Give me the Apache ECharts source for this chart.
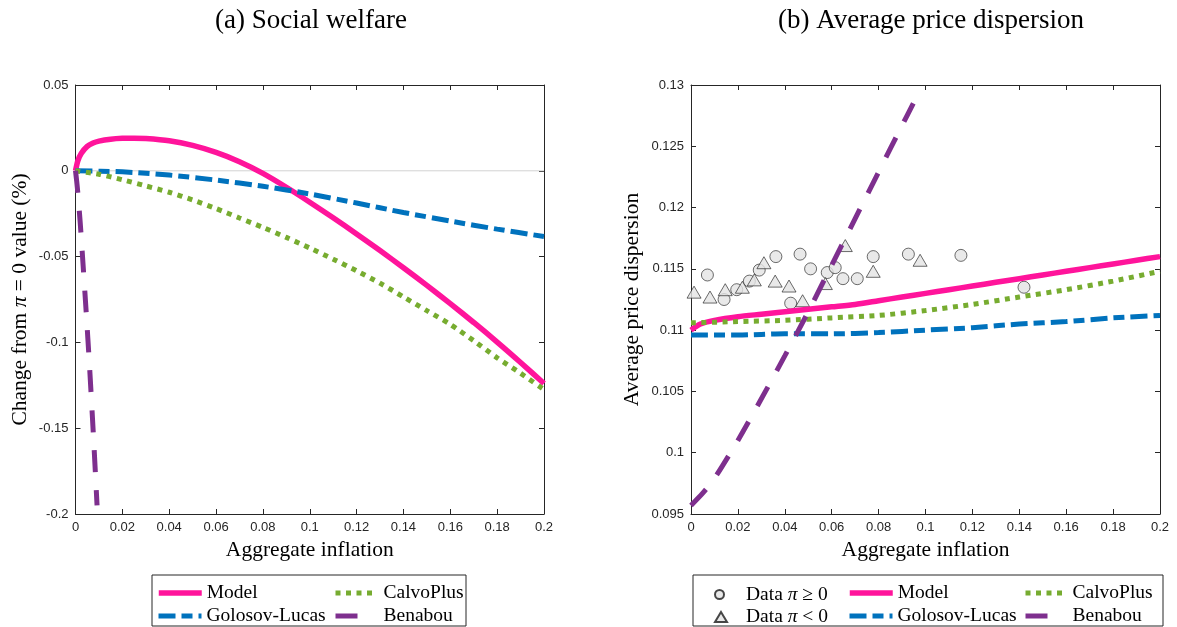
<!DOCTYPE html>
<html>
<head>
<meta charset="utf-8">
<script src="https://cdn.jsdelivr.net/npm/echarts@6/dist/echarts.min.js"></script>
<style>
  html, body { margin: 0; padding: 0; background: #fff; }
  #chart { width: 1177px; height: 627px; }
</style>
</head>
<body>
<div id="chart"></div>
<script>
// ---- Panel (a): change in social welfare vs aggregate inflation ----
const welfareModel = [
  [0, 0], [0.001, 0.0058], [0.0025, 0.0102], [0.005, 0.0142], [0.0075, 0.0162],
  [0.01, 0.0173], [0.015, 0.0184], [0.02, 0.0189], [0.025, 0.019], [0.03, 0.0188],
  [0.04, 0.0175], [0.05, 0.0148], [0.06, 0.0107], [0.07, 0.0053], [0.08, -0.0015],
  [0.09, -0.0096], [0.1, -0.0183], [0.11, -0.0274], [0.12, -0.0368], [0.13, -0.0465],
  [0.14, -0.0565], [0.15, -0.0668], [0.16, -0.0774], [0.17, -0.0884], [0.18, -0.0998],
  [0.19, -0.1117], [0.2, -0.124]
];
const welfareGolosovLucas = [
  [0, 0], [0.02, -0.0006], [0.04, -0.0025], [0.06, -0.0054], [0.08, -0.009],
  [0.1, -0.0135], [0.12, -0.0188], [0.14, -0.0243], [0.16, -0.0293], [0.18, -0.034],
  [0.2, -0.0383]
];
const welfareCalvoPlus = [
  [0, 0], [0.01, -0.002], [0.02, -0.0052], [0.03, -0.0088], [0.04, -0.0125],
  [0.05, -0.017], [0.06, -0.022], [0.07, -0.0275], [0.08, -0.033], [0.09, -0.0388],
  [0.1, -0.045], [0.11, -0.0515], [0.12, -0.0583], [0.13, -0.0655], [0.14, -0.0735],
  [0.15, -0.0815], [0.16, -0.0895], [0.17, -0.099], [0.18, -0.109], [0.19, -0.118],
  [0.2, -0.1275]
];
const welfareBenabou = [
  [0, 0], [0.0005, -0.006], [0.001, -0.013], [0.002, -0.03], [0.003, -0.05],
  [0.0045, -0.081], [0.006, -0.114], [0.0078, -0.158], [0.0092, -0.195]
];
const welfareZero = [[0, 0], [0.2, 0]];

// ---- Panel (b): average price dispersion vs aggregate inflation ----
const dataPositive = [
  [0.0070, 0.1145], [0.0141, 0.1125], [0.0195, 0.1133], [0.0249, 0.1140],
  [0.0291, 0.1149], [0.0362, 0.1160], [0.0425, 0.1122], [0.0465, 0.1162],
  [0.0510, 0.1150], [0.0581, 0.1147], [0.0615, 0.1151], [0.0648, 0.1142],
  [0.0709, 0.1142], [0.0777, 0.1160], [0.0927, 0.1162], [0.1151, 0.1161],
  [0.1420, 0.1135]
];
const dataNegative = [
  [0.0013, 0.1131], [0.0081, 0.1127], [0.0146, 0.1133], [0.0219, 0.1135],
  [0.0270, 0.1141], [0.0311, 0.1155], [0.0359, 0.1140], [0.0418, 0.1136],
  [0.0476, 0.1124], [0.0573, 0.1138], [0.0658, 0.1169], [0.0777, 0.1148],
  [0.0977, 0.1157]
];
const dispersionModel = [
  [0, 0.1100], [0.004, 0.1105], [0.01, 0.1108], [0.02, 0.1111], [0.03, 0.1113],
  [0.04, 0.1115], [0.05, 0.1117], [0.06, 0.1119], [0.07, 0.1121], [0.08, 0.1124],
  [0.09, 0.1127], [0.1, 0.1130], [0.11, 0.1133], [0.12, 0.1136], [0.13, 0.1139],
  [0.14, 0.1142], [0.15, 0.1145], [0.16, 0.1148], [0.17, 0.1151], [0.18, 0.1154],
  [0.19, 0.1157], [0.2, 0.1160]
];
const dispersionGolosovLucas = [
  [0, 0.1096], [0.02, 0.1096], [0.04, 0.1097], [0.06, 0.1097], [0.08, 0.1098],
  [0.1, 0.1100], [0.12, 0.1102], [0.14, 0.1105], [0.16, 0.1107], [0.18, 0.1110],
  [0.2, 0.1112]
];
const dispersionCalvoPlus = [
  [0, 0.1106], [0.02, 0.1107], [0.04, 0.1108], [0.06, 0.1110], [0.08, 0.1112],
  [0.1, 0.1116], [0.12, 0.1121], [0.14, 0.1127], [0.16, 0.1133], [0.18, 0.1140],
  [0.2, 0.1148]
];
const dispersionBenabou = [
  [0, 0.0957], [0.005, 0.0967], [0.01, 0.0979], [0.02, 0.1010], [0.03, 0.1044],
  [0.04, 0.1079], [0.05, 0.1115], [0.06, 0.1153], [0.07, 0.1191], [0.08, 0.1229],
  [0.09, 0.1267], [0.0948, 0.1285]
];

// Axis ranges
const inflationRange = { min: 0, max: 0.2, interval: 0.02 };
const welfareRange = { min: -0.2, max: 0.05, interval: 0.05 };
const dispersionRange = { min: 0.095, max: 0.13, interval: 0.005 };

const COLORS = {
  model: '#ff149b',
  gl: '#0072bd',
  calvo: '#77ac30',
  benabou: '#7e2f8e',
  axis: '#262626',
  marker: '#e3e3e3'
};
const SERIF = '"Liberation Serif", "DejaVu Serif", serif';
const SANS = '"Liberation Sans", Arial, sans-serif';

const LINE_STYLES = {
  model: { color: COLORS.model, width: 5.5, type: 'solid', cap: 'butt' },
  gl: { color: COLORS.gl, width: 5, type: [17, 6, 11, 6], cap: 'butt' },
  calvo: { color: COLORS.calvo, width: 5, type: [5, 5.5], cap: 'butt' },
  benabou: { color: COLORS.benabou, width: 5, type: [22, 18], cap: 'butt' }
};

const fmt = v => String(parseFloat(Number(v).toFixed(4)));

function valueAxis(gridIndex, position, range, showLabels) {
  return {
    type: 'value', gridIndex, position,
    min: range.min, max: range.max, interval: range.interval,
    axisLine: { show: true, onZero: false, lineStyle: { color: COLORS.axis, width: 1 } },
    axisTick: { show: true, inside: true, length: 5, lineStyle: { color: COLORS.axis, width: 1 } },
    axisLabel: {
      show: showLabels, color: COLORS.axis, fontFamily: SANS, fontSize: 13,
      margin: 7, formatter: fmt
    },
    splitLine: { show: false }
  };
}

const xAxes = [
  Object.assign(valueAxis(0, 'bottom', inflationRange, true), {
    name: 'Aggregate inflation', nameLocation: 'middle', nameGap: 24,
    nameTextStyle: { fontFamily: SERIF, fontSize: 21.5, color: '#000' }
  }),
  valueAxis(0, 'top', inflationRange, false),
  Object.assign(valueAxis(1, 'bottom', inflationRange, true), {
    name: 'Aggregate inflation', nameLocation: 'middle', nameGap: 24,
    nameTextStyle: { fontFamily: SERIF, fontSize: 21.5, color: '#000' }
  }),
  valueAxis(1, 'top', inflationRange, false)
];

const yAxes = [
  Object.assign(valueAxis(0, 'left', welfareRange, true), {
    name: '{t|Change from }{i|π}{t| = 0 value (%)}',
    nameLocation: 'middle', nameGap: 44,
    nameTextStyle: {
      rich: {
        t: { fontFamily: SERIF, fontSize: 21.5, color: '#000' },
        i: { fontFamily: SERIF, fontSize: 21.5, fontStyle: 'italic', color: '#000' }
      }
    }
  }),
  valueAxis(0, 'right', welfareRange, false),
  Object.assign(valueAxis(1, 'left', dispersionRange, true), {
    name: 'Average price dispersion', nameLocation: 'middle', nameGap: 48,
    nameTextStyle: { fontFamily: SERIF, fontSize: 21.5, color: '#000' }
  }),
  valueAxis(1, 'right', dispersionRange, false)
];

function lineSeries(name, data, style, axisIdx, z) {
  return {
    name, type: 'line', data,
    xAxisIndex: axisIdx, yAxisIndex: axisIdx,
    symbol: 'none', showSymbol: false, smooth: 0.25,
    lineStyle: style, itemStyle: { color: style.color }, z, silent: true
  };
}

const series = [
  {
    name: 'zero', type: 'line', data: welfareZero, xAxisIndex: 0, yAxisIndex: 0,
    symbol: 'none', lineStyle: { color: '#d2d2d2', width: 1 }, z: 1, silent: true
  },
  lineSeries('Model', welfareModel, LINE_STYLES.model, 0, 2),
  lineSeries('Golosov-Lucas', welfareGolosovLucas, LINE_STYLES.gl, 0, 3),
  lineSeries('CalvoPlus', welfareCalvoPlus, LINE_STYLES.calvo, 0, 4),
  lineSeries('Benabou', welfareBenabou, LINE_STYLES.benabou, 0, 5),
  {
    name: 'DataPos', type: 'scatter', data: dataPositive, xAxisIndex: 2, yAxisIndex: 2,
    symbol: 'circle', symbolSize: 12, z: 2, silent: true,
    itemStyle: { color: COLORS.marker, borderColor: '#1a1a1a', borderWidth: 0.8 }
  },
  {
    name: 'DataNeg', type: 'scatter', data: dataNegative, xAxisIndex: 2, yAxisIndex: 2,
    symbol: 'triangle', symbolSize: [14, 12], z: 2, silent: true,
    itemStyle: { color: COLORS.marker, borderColor: '#1a1a1a', borderWidth: 0.8 }
  },
  lineSeries('Model', dispersionModel, LINE_STYLES.model, 2, 3),
  lineSeries('Golosov-Lucas', dispersionGolosovLucas, LINE_STYLES.gl, 2, 4),
  lineSeries('CalvoPlus', dispersionCalvoPlus, LINE_STYLES.calvo, 2, 5),
  lineSeries('Benabou', dispersionBenabou, LINE_STYLES.benabou, 2, 6)
];

// One legend component per entry so each sits in its own slot of the boxed layout
const legendText = {
  fontFamily: SERIF, fontSize: 19.5, color: '#000',
  rich: {
    t: { fontFamily: SERIF, fontSize: 19.5, color: '#000' },
    i: { fontFamily: SERIF, fontSize: 19.5, fontStyle: 'italic', color: '#000' }
  }
};
function legendItem(name, left, rowCenter, width, height, lineKey, pad, formatter) {
  const item = {
    data: [name], left, top: rowCenter - height / 2, itemWidth: width, itemHeight: height,
    selectedMode: false, padding: 0,
    textStyle: Object.assign({}, legendText, pad ? { padding: [0, 0, 0, pad] } : {})
  };
  if (lineKey) {
    const s = LINE_STYLES[lineKey];
    item.lineStyle = { width: s.width, type: s.type, color: s.color, cap: 'butt' };
    item.itemStyle = { opacity: 0 };
  }
  if (formatter) item.formatter = formatter;
  return item;
}

const ROW1 = 589, ROW2 = 612;
const legends = [
  legendItem('Model', 156, ROW1, 43, 12, 'model', 0),
  legendItem('Golosov-Lucas', 156, ROW2, 43, 12, 'gl', 0),
  legendItem('CalvoPlus', 333, ROW1, 37, 12, 'calvo', 6),
  legendItem('Benabou', 333, ROW2, 37, 12, 'benabou', 6),
  legendItem('DataPos', 714, ROW1, 9, 9, null, 17, () => '{t|Data }{i|π}{t| ≥ 0}'),
  legendItem('DataNeg', 714, ROW2, 12, 10, null, 14, () => '{t|Data }{i|π}{t| < 0}'),
  legendItem('Model', 847, ROW1, 43, 12, 'model', 0),
  legendItem('Golosov-Lucas', 847, ROW2, 43, 12, 'gl', 0),
  legendItem('CalvoPlus', 1023, ROW1, 37, 12, 'calvo', 5),
  legendItem('Benabou', 1023, ROW2, 37, 12, 'benabou', 5)
];

const chart = echarts.init(document.getElementById('chart'), null, { renderer: 'canvas' });
chart.setOption({
  backgroundColor: '#ffffff',
  animation: false,
  title: [
    { text: '(a) Social welfare', left: 306, top: 2, textAlign: 'center',
      textStyle: { fontFamily: SERIF, fontSize: 27, fontWeight: 'normal', color: '#000' } },
    { text: '(b) Average price dispersion', left: 926, top: 2, textAlign: 'center',
      textStyle: { fontFamily: SERIF, fontSize: 27, fontWeight: 'normal', color: '#000' } }
  ],
  grid: [
    { left: 75.5, top: 85, width: 468.5, height: 429 },
    { left: 691, top: 85, width: 469, height: 429 }
  ],
  xAxis: xAxes,
  yAxis: yAxes,
  legend: legends,
  graphic: [
    { type: 'rect', shape: { x: 152, y: 575, width: 314, height: 51 }, z: -1,
      style: { fill: '#fff', stroke: COLORS.axis, lineWidth: 1 } },
    { type: 'rect', shape: { x: 693, y: 575, width: 470, height: 51 }, z: -1,
      style: { fill: '#fff', stroke: COLORS.axis, lineWidth: 1 } }
  ],
  series
});
</script>
</body>
</html>
